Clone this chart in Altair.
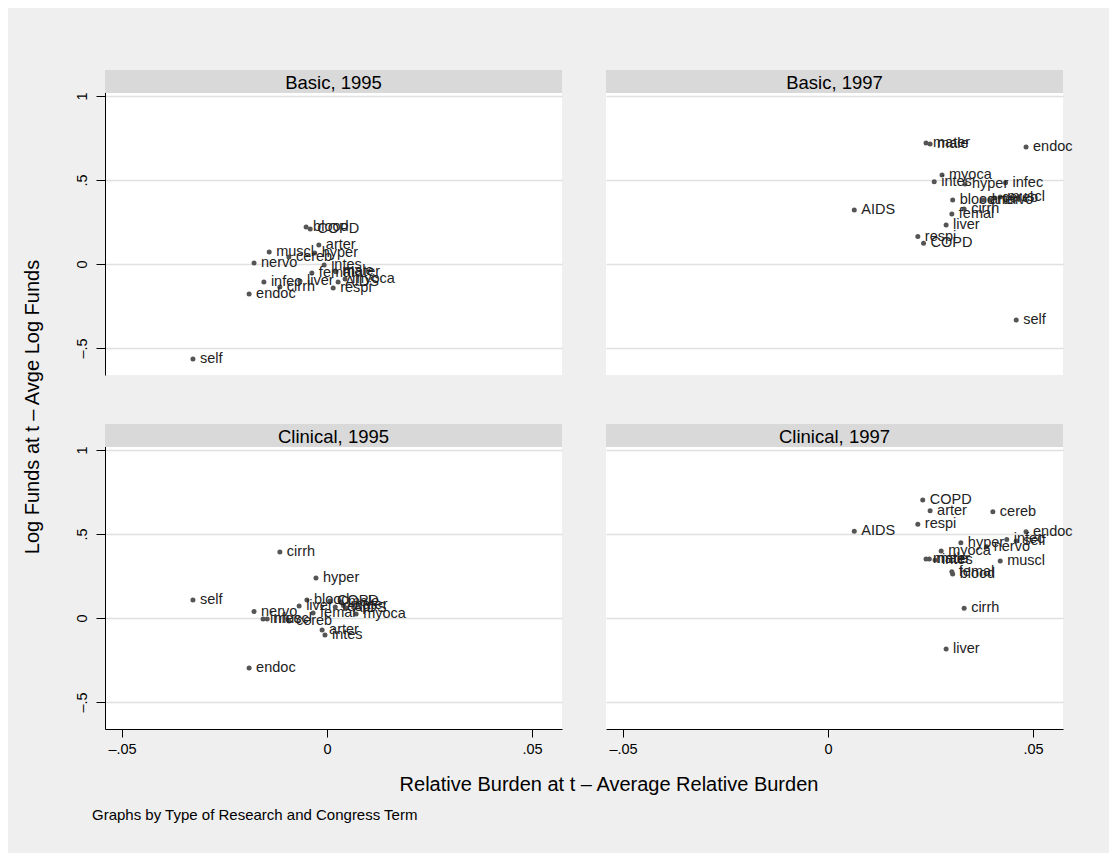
import altair as alt
import pandas as pd

CATEGORIES = ["AIDS", "COPD", "arter", "blood", "cereb", "cirrh", "endoc", "femal", "hyper",
              "infec", "intes", "liver", "male", "mater", "muscl", "myoca", "nervo", "respi", "self"]

PANEL_TITLES = ["Basic, 1995", "Basic, 1997", "Clinical, 1995", "Clinical, 1997"]

X_BASIC_1995 = [0.0027, -0.0041, -0.0020, -0.0051, -0.0093, -0.0115, -0.0190, -0.0037, -0.0030,
                -0.0154, -0.0007, -0.0066, 0.0020, 0.0022, -0.0141, 0.0044, -0.0178, 0.0015, -0.0327]
Y_BASIC_1995 = [-0.107, 0.208, 0.113, 0.220, 0.042, -0.137, -0.179, -0.054, 0.065,
                -0.107, -0.006, -0.101, -0.042, -0.046, 0.071, -0.089, 0.006, -0.143, -0.565]

X_BASIC_1997 = [0.0064, 0.0233, 0.0378, 0.0304, 0.0407, 0.0332, 0.0483, 0.0302, 0.0334,
                0.0433, 0.0259, 0.0288, 0.0249, 0.0239, 0.0420, 0.0278, 0.0395, 0.0219, 0.0459]
Y_BASIC_1997 = [0.321, 0.123, 0.381, 0.381, 0.393, 0.327, 0.696, 0.298, 0.476,
                0.484, 0.490, 0.232, 0.714, 0.720, 0.399, 0.530, 0.381, 0.163, -0.333]

X_CLINICAL_1995 = [0.0046, 0.0007, -0.0012, -0.0049, -0.0093, -0.0115, -0.0190, -0.0034, -0.0027,
                   -0.0156, -0.0005, -0.0068, 0.0034, 0.0040, -0.0146, 0.0071, -0.0178, 0.0020, -0.0327]
Y_CLINICAL_1995 = [0.060, 0.101, -0.071, 0.107, -0.018, 0.393, -0.298, 0.030, 0.238,
                   -0.006, -0.101, 0.071, 0.095, 0.075, -0.006, 0.024, 0.038, 0.065, 0.107]

X_CLINICAL_1997 = [0.0064, 0.0231, 0.0249, 0.0304, 0.0402, 0.0332, 0.0483, 0.0302, 0.0324,
                   0.0436, 0.0261, 0.0288, 0.0247, 0.0239, 0.0420, 0.0276, 0.0387, 0.0219, 0.0459]
Y_CLINICAL_1997 = [0.516, 0.702, 0.639, 0.262, 0.633, 0.058, 0.514, 0.276, 0.448,
                   0.468, 0.345, -0.185, 0.351, 0.351, 0.339, 0.399, 0.424, 0.558, 0.458]

X_TICKS = [-0.05, 0, 0.05]
X_TICK_LABELS = ["–.05", "0", ".05"]
Y_TICKS = [-0.5, 0, 0.5, 1]
Y_TICK_LABELS = ["–.5", "0", ".5", "1"]

Y_TITLE = "Log Funds at t – Avge Log Funds"
X_TITLE = "Relative Burden at t – Average Relative Burden"
NOTE = "Graphs by Type of Research and Congress Term"

FONT = "Liberation Sans"
BG = "#efefef"
STRIP = "#d9d9d9"
DOT = "#555555"
LABEL = "#222222"
GRID = "#e0e0e0"

W, H, SH = 457, 282, 23
PH = H + SH
PX_PER_UNIT = 168.0
X_DOMAIN = [-0.05415, 0.05731]
Y_DOMAIN = [-0.6607, 1.0 + (3 + SH) / PX_PER_UNIT]

# page anchors (px): left panels x=105, right x=606; top strips y=70, bottom strips y=424
LX, RX, TY, BY = 105, 606, 70, 424


def label_expr(ticks, labels):
    parts = [f"abs(datum.value - ({t})) < 1e-9 ? '{l}'" for t, l in zip(ticks, labels)]
    return " : ".join(parts) + " : ''"


def text_layer(s, x, y, size, align="center", angle=0):
    return alt.Chart(pd.DataFrame({"t": [s]})).mark_text(
        font=FONT, fontSize=size, color="black", align=align, baseline="middle", angle=angle
    ).encode(x=alt.value(x), y=alt.value(y), text="t:N")


def spacer(x, y):
    return alt.Chart(pd.DataFrame({"t": [0]})).mark_rect(color=BG).encode(
        x=alt.value(x), x2=alt.value(x + 1), y=alt.value(y), y2=alt.value(y + 1))


def panel(title, xs, ys, show_x, show_y, extra=()):
    df = pd.DataFrame({"cat": CATEGORIES, "x": xs, "y": ys})
    sdf = pd.DataFrame({"t": [title]})
    strip_rect = alt.Chart(sdf).mark_rect(color=STRIP).encode(
        x=alt.value(0), x2=alt.value(W), y=alt.value(0), y2=alt.value(SH))
    strip_text = text_layer(title, W / 2, SH / 2 + 1, 18.5)

    xscale = alt.Scale(domain=X_DOMAIN, nice=False, zero=False)
    yscale = alt.Scale(domain=Y_DOMAIN, nice=False, zero=False)
    if show_x:
        xaxis = alt.Axis(values=X_TICKS, labelExpr=label_expr(X_TICKS, X_TICK_LABELS), grid=False,
                         domain=True, domainColor="black", domainWidth=1, ticks=True, tickSize=8,
                         tickColor="black", labelFont=FONT, labelFontSize=14.5, labelColor="black",
                         labelPadding=5, title=None)
    else:
        xaxis = None
    if show_y:
        yaxis = alt.Axis(values=Y_TICKS, labelExpr=label_expr(Y_TICKS, Y_TICK_LABELS), grid=True,
                         gridColor=GRID, gridWidth=1.5, domain=True, domainColor="black",
                         domainWidth=1, ticks=True, tickSize=9, tickColor="black",
                         labelFont=FONT, labelFontSize=14.5, labelColor="black",
                         labelAngle=270, labelAlign="center", labelBaseline="bottom",
                         labelPadding=7, title=None)
    else:
        yaxis = alt.Axis(values=Y_TICKS, grid=True, gridColor=GRID, gridWidth=1.5,
                         labels=False, ticks=False, domain=False, title=None)

    base = alt.Chart(df).encode(
        x=alt.X("x:Q", scale=xscale, axis=xaxis),
        y=alt.Y("y:Q", scale=yscale, axis=yaxis),
    )
    pts = base.mark_circle(size=25, color=DOT, opacity=1)
    txt = base.mark_text(align="left", baseline="middle", dx=7, font=FONT, fontSize=14.5,
                         color=LABEL).encode(text="cat:N")
    return alt.layer(pts, txt, strip_rect, strip_text, *extra).properties(
        width=W, height=PH, view=alt.ViewBackground(fill="white", stroke=None))


pA = panel(PANEL_TITLES[0], X_BASIC_1995, Y_BASIC_1995, False, True,
           extra=[text_layer(Y_TITLE, 33 - LX, 407 - TY, 20, angle=270)])
pB = panel(PANEL_TITLES[1], X_BASIC_1997, Y_BASIC_1997, False, False,
           extra=[spacer(1108 - RX, 8 - TY)])
pC = panel(PANEL_TITLES[2], X_CLINICAL_1995, Y_CLINICAL_1995, True, True,
           extra=[text_layer(X_TITLE, 609 - LX, 785 - BY, 20),
                  text_layer(NOTE, 92 - LX, 815 - BY, 15, align="left"),
                  spacer(8 - LX, 852 - BY)])
pD = panel(PANEL_TITLES[3], X_CLINICAL_1997, Y_CLINICAL_1997, True, False)

chart = alt.concat(pA, pB, pC, pD, columns=2,
                   spacing={"row": BY - (TY + PH), "column": RX - (LX + W)},
                   bounds="flush").properties(
    padding={"left": 0, "top": 0, "right": 0, "bottom": 0},
    background=BG,
).configure_view(stroke=None)

chart.save("out.html", embed_options={"renderer": "svg", "actions": False})
